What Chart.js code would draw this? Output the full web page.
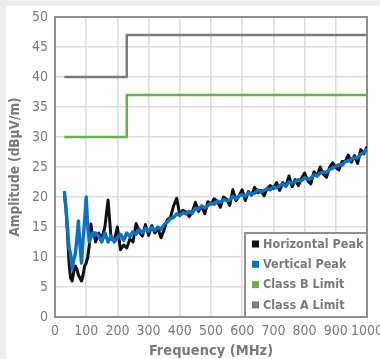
<!DOCTYPE html>
<html>
<head>
<meta charset="utf-8">
<script src="https://cdn.jsdelivr.net/npm/chart.js@4.4.1/dist/chart.umd.min.js"></script>
<style>
  html, body { margin: 0; padding: 0; background: #ececec; }
  #wrap { position: relative; width: 380px; height: 359px; }
</style>
</head>
<body>
<div id="wrap"><canvas id="chart" width="380" height="359"></canvas></div>
<script>
// frequency points (MHz)
const freqs = [30, 35, 40, 45, 50, 55, 60, 65, 70, 75, 80, 85, 90, 95, 100, 105, 110, 115, 120, 125, 130,
  140, 150, 160, 170, 180, 190, 200, 210, 220, 230, 240, 250, 260, 270, 280, 290, 300, 310, 320, 330,
  340, 350, 360, 370, 380, 390, 400, 410, 420, 430, 440, 450, 460, 470, 480, 490, 500, 510, 520, 530,
  540, 550, 560, 570, 580, 590, 600, 610, 620, 630, 640, 650, 660, 670, 680, 690, 700, 710, 720, 730,
  740, 750, 760, 770, 780, 790, 800, 810, 820, 830, 840, 850, 860, 870, 880, 890, 900, 910, 920, 930,
  940, 950, 960, 970, 980, 990, 1000];

// Horizontal Peak (dBuV/m)
const horizontalPeak = [20.5, 18, 14, 9, 6.5, 6, 7.5, 8.5, 8, 7, 6.5, 6, 7, 8.5, 9, 10, 12, 15.5, 13.5, 14, 12.5,
  14, 13, 15, 19.5, 13, 12.8, 15, 11.2, 12, 11.5, 13, 12.5, 15.6, 14.2, 13.5, 15.4, 13.6, 15.2, 14, 14.8,
  13.2, 14.6, 16.2, 16.6, 18.5, 19.8, 17, 17.8, 17.5, 16.7, 17.5, 19.1, 17.6, 18.5, 17.2, 19.2, 18.8, 19.7, 19.3, 18.3,
  20.0, 19.6, 18.6, 21.2, 19.4, 20.2, 21.2, 19.4, 20.9, 20.3, 21.6, 20.7, 21.1, 20.2, 21.4, 21.9, 21.4, 22.4, 21.1, 22.4,
  21.8, 23.5, 21.7, 22.9, 21.9, 23.1, 24.0, 22.7, 22.2, 24.2, 23.5, 25.0, 23.8, 23.3, 24.9, 25.7, 24.9, 24.5, 25.9, 25.9,
  27.0, 25.8, 26.9, 25.6, 27.9, 27.2, 28.4];

// Vertical Peak (dBuV/m)
const verticalPeak = [21, 18.5, 15, 11.5, 10.5, 8, 9.5, 10.5, 13, 16, 12, 9, 13, 16, 20, 15, 12.5, 13.5, 14, 13.5, 14,
  13.5, 12.5, 14, 12.5, 13.5, 12.5, 13.2, 13.8, 12.8, 14, 13.4, 14.2, 13.8, 14.6, 14, 14.8, 14.3, 14.9, 14.4, 15,
  14.6, 15.4, 15.8, 16.4, 16.6, 17.2, 16.9, 17.4, 17.2, 17.6, 17.3, 18.1, 18.0, 18.5, 18.2, 18.6, 19.0, 18.8, 19.3, 19.1,
  19.6, 19.4, 19.5, 20.1, 19.7, 20.2, 20.4, 20.1, 20.7, 20.5, 20.6, 21.2, 20.8, 21.1, 21.4, 21.2, 21.7, 21.5, 21.9, 22.2,
  21.8, 22.5, 22.3, 22.6, 22.9, 22.7, 23.2, 23.0, 23.1, 23.7, 23.5, 24.0, 24.2, 24.1, 24.6, 24.8, 25.1, 25.4, 25.3, 25.9,
  26.0, 26.3, 26.6, 26.5, 27.1, 27.4, 28.1];

// limit lines (step at 230 MHz)
const limitFreqs = [30, 230, 230, 1000];
const classBLimit = [30, 30, 37, 37];
const classALimit = [40, 40, 47, 47];

const xTicks = [0, 100, 200, 300, 400, 500, 600, 700, 800, 900, 1000];
const yTicks = [0, 5, 10, 15, 20, 25, 30, 35, 40, 45, 50];

const FONT = "'Liberation Sans Narrow', 'DejaVu Sans Condensed', 'Roboto', sans-serif";
const TEXT = "#7a7a7a";

const toPoints = (xs, ys) => xs.map((x, i) => ({ x: x, y: ys[i] }));

// gray page edge + white panel
const panelBg = {
  id: "panelBg",
  beforeDraw(chart) {
    const ctx = chart.ctx;
    ctx.save();
    ctx.fillStyle = "#ececec";
    ctx.fillRect(0, 0, chart.width, chart.height);
    ctx.fillStyle = "#ffffff";
    ctx.fillRect(6, 6, chart.width - 6, chart.height - 6);
    ctx.restore();
  }
};

// frame around plot area
const plotFrame = {
  id: "plotFrame",
  beforeDatasetsDraw(chart) {
    const { ctx, chartArea: a } = chart;
    ctx.save();
    ctx.strokeStyle = "#8f8f8f";
    ctx.lineWidth = 2;
    ctx.strokeRect(a.left, a.top, a.right - a.left, a.bottom - a.top);
    ctx.restore();
  }
};

// legend box in lower right corner of the plot
const cornerLegend = {
  id: "cornerLegend",
  afterDatasetsDraw(chart) {
    const { ctx, chartArea: a } = chart;
    const w = 122, h = 84;
    const x0 = a.right - w, y0 = a.bottom - h;
    ctx.save();
    ctx.fillStyle = "#ffffff";
    ctx.fillRect(x0, y0, w, h);
    ctx.strokeStyle = "#8f8f8f";
    ctx.lineWidth = 2;
    ctx.strokeRect(x0, y0, w, h);
    ctx.font = "bold 12.5px " + FONT;
    ctx.textBaseline = "middle";
    chart.data.datasets.forEach((ds, i) => {
      const cy = y0 + 11 + i * 20.3;
      ctx.fillStyle = ds.borderColor;
      ctx.fillRect(x0 + 7, cy - 3.5, 7, 7);
      ctx.fillStyle = TEXT;
      ctx.fillText(ds.label, x0 + 18, cy + 0.5);
    });
    ctx.restore();
  }
};

new Chart(document.getElementById("chart"), {
  type: "line",
  data: {
    datasets: [
      { label: "Horizontal Peak", data: toPoints(freqs, horizontalPeak), borderColor: "#111111", borderWidth: 3, order: 1 },
      { label: "Vertical Peak", data: toPoints(freqs, verticalPeak), borderColor: "#0a72c2", borderWidth: 3.4, order: 0 },
      { label: "Class B Limit", data: toPoints(limitFreqs, classBLimit), borderColor: "#6ab04a", borderWidth: 2.5, order: 2 },
      { label: "Class A Limit", data: toPoints(limitFreqs, classALimit), borderColor: "#7d7d7d", borderWidth: 2.5, order: 3 },
    ],
  },
  options: {
    responsive: false,
    animation: false,
    events: [],
    elements: { point: { radius: 0 }, line: { tension: 0, borderJoinStyle: "round" } },
    layout: { padding: { left: 0, right: 13, top: 17, bottom: 0 } },
    plugins: { legend: { display: false }, tooltip: { enabled: false } },
    scales: {
      x: {
        type: "linear",
        min: 0,
        max: 1000,
        afterBuildTicks: (s) => { s.ticks = xTicks.map(v => ({ value: v })); },
        afterFit: (s) => { s.height = 42; s.paddingLeft = 0; s.paddingRight = 0; },
        grid: { color: "#dedede", lineWidth: 1.6, drawTicks: false },
        border: { display: false },
        ticks: { color: TEXT, padding: 6, maxRotation: 0, autoSkip: false, font: { family: FONT, size: 14 }, callback: (v) => String(v) },
        title: { display: true, text: "Frequency (MHz)", color: TEXT, padding: { top: 0, bottom: 0 }, font: { family: FONT, size: 14.5, weight: "bold", lineHeight: 1.1 } },
      },
      y: {
        min: 0,
        max: 50,
        afterBuildTicks: (s) => { s.ticks = yTicks.map(v => ({ value: v })); },
        afterFit: (s) => { s.width = 55; s.paddingTop = 0; s.paddingBottom = 0; },
        grid: { color: "#dedede", lineWidth: 1.6, drawTicks: false },
        border: { display: false },
        ticks: { color: TEXT, padding: 7, autoSkip: false, font: { family: FONT, size: 14 }, callback: (v) => String(v) },
        title: { display: true, text: "Amplitude (dBµV/m)", color: TEXT, padding: { top: 8, bottom: 0 }, font: { family: FONT, size: 13.5, weight: "bold", lineHeight: 1.1 } },
      },
    },
  },
  plugins: [panelBg, plotFrame, cornerLegend],
});
</script>
</body>
</html>
